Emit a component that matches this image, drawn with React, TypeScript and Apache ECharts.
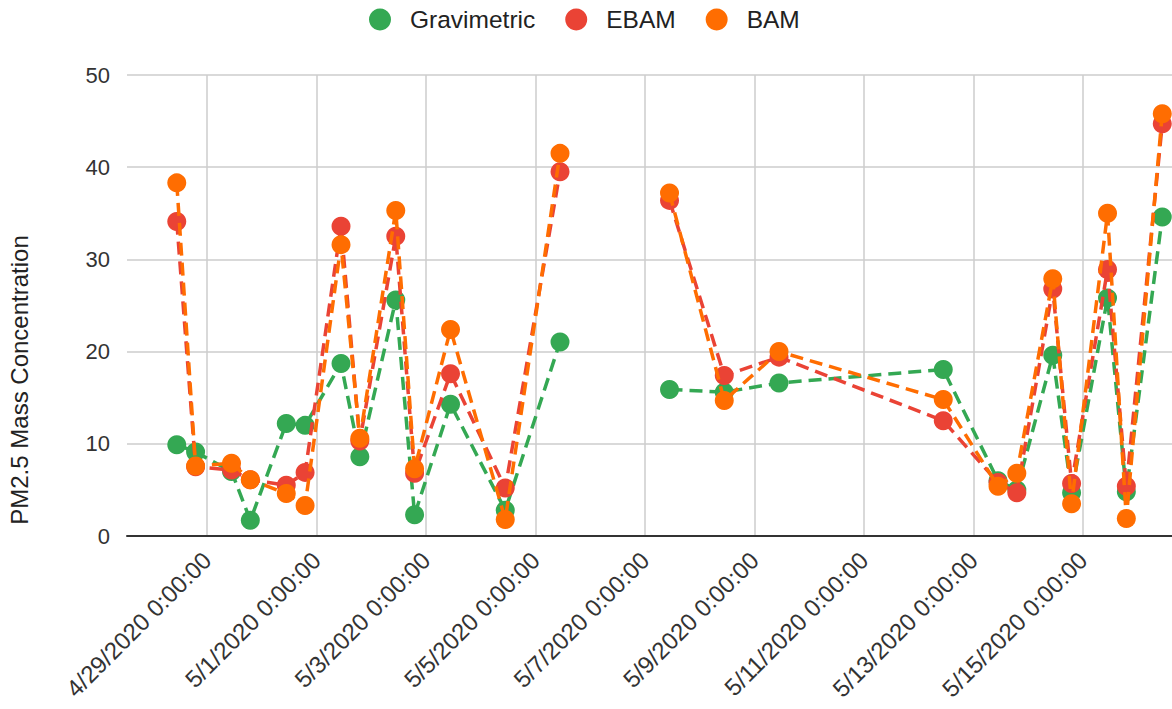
import React, { useEffect, useRef } from "react";
import * as echarts from "echarts";

// Sample times
const times: string[] = [
  "2020-04-28 10:45", "2020-04-28 19:00",
  "2020-04-29 10:45", "2020-04-29 19:00",
  "2020-04-30 10:45", "2020-04-30 19:00",
  "2020-05-01 10:45", "2020-05-01 19:00",
  "2020-05-02 10:45", "2020-05-02 19:00",
  "2020-05-03 10:45",
  "2020-05-04 10:45",
  "2020-05-05 10:45",
  "2020-05-06 10:45",
  "2020-05-07 10:45",
  "2020-05-08 10:45",
  "2020-05-09 10:45",
  "2020-05-12 10:45",
  "2020-05-13 10:45", "2020-05-13 19:00",
  "2020-05-14 10:45", "2020-05-14 19:00",
  "2020-05-15 10:45", "2020-05-15 19:00",
  "2020-05-16 10:45",
];

const gravimetric: (number | null)[] = [
  9.9, 9.1, 7.0, 1.7, 12.2, 12.0, 18.7, 8.6, 25.6, 2.3, 14.3, 2.8, 21.05,
  null, 15.9, 15.6, 16.6, 18.06, 6.0, 5.0, 19.6, 4.7, 25.8, 4.8, 34.6,
];
const ebam: (number | null)[] = [
  34.1, 7.5, 7.15, 6.1, 5.5, 6.9, 33.6, 10.3, 32.5, 6.8, 17.6, 5.2, 39.5,
  null, 36.4, 17.4, 19.4, 12.5, 5.8, 4.7, 26.8, 5.7, 28.9, 5.4, 44.7,
];
const bam: (number | null)[] = [
  38.3, 7.6, 7.9, 6.1, 4.6, 3.3, 31.6, 10.6, 35.3, 7.3, 22.4, 1.8, 41.5,
  null, 37.2, 14.7, 20.0, 14.8, 5.4, 6.8, 27.9, 3.5, 35.0, 1.9, 45.8,
];

const tickDates: string[] = [
  "2020-04-29 00:00", "2020-05-01 00:00", "2020-05-03 00:00",
  "2020-05-05 00:00", "2020-05-07 00:00", "2020-05-09 00:00",
  "2020-05-11 00:00", "2020-05-13 00:00", "2020-05-15 00:00",
];
const axisMin = "2020-04-27 12:56";
const axisMax = "2020-05-16 15:01";

const seriesNames = ["Gravimetric", "EBAM", "BAM"];
const colors = ["#34a853", "#ea4335", "#ff6d01"];

const DAY = 86400000;
function parseT(s: string): number {
  const [d, t] = s.split(" ");
  const [y, m, dd] = d.split("-").map(Number);
  const [hh, mm] = (t || "0:0").split(":").map(Number);
  return Date.UTC(y, m - 1, dd, hh, mm);
}
const BASE = parseT(tickDates[0]);
const toDays = (s: string) => (parseT(s) - BASE) / DAY;

const FONT = "'Liberation Sans', Arial, sans-serif";

export default function App() {
  const ref = useRef<HTMLDivElement>(null);
  useEffect(() => {
    if (!ref.current) return;
    const chart = echarts.init(ref.current, undefined, { renderer: "svg" });
    const all = [gravimetric, ebam, bam];
    const ticks = tickDates.map(toDays);
    const option: any = {
      animation: false,
      backgroundColor: "#ffffff",
      textStyle: { fontFamily: FONT },
      legend: {
        top: 2,
        left: 364,
        icon: "circle",
        itemWidth: 22,
        itemHeight: 22,
        itemGap: 30,
        textStyle: { fontSize: 24.5, color: "#222", fontFamily: FONT, padding: [0, 0, 0, 14] },
        data: seriesNames,
      },
      grid: { left: 127, right: 0, top: 75, bottom: 173, containLabel: false },
      xAxis: {
        type: "value",
        min: toDays(axisMin),
        max: toDays(axisMax),
        axisLine: { show: true, onZero: false, lineStyle: { color: "#333", width: 2 } },
        axisTick: { show: false, customValues: ticks },
        axisLabel: {
          customValues: ticks,
          rotate: 45,
          fontSize: 24,
          color: "#333",
          margin: 20,
          fontFamily: FONT,
          hideOverlap: false,
          showMinLabel: true,
          showMaxLabel: true,
          formatter: (v: number) => {
            const d = new Date(BASE + Math.round(v) * DAY);
            return `${d.getUTCMonth() + 1}/${d.getUTCDate()}/${d.getUTCFullYear()} 0:00:00`;
          },
        },
        splitLine: { show: true, lineStyle: { color: "#cccccc", width: 1.5 } },
      },
      yAxis: {
        type: "value",
        min: 0,
        max: 50,
        interval: 10,
        axisLine: { show: false },
        axisTick: { show: false },
        axisLabel: { fontSize: 22, color: "#333", margin: 17, fontFamily: FONT },
        splitLine: { show: true, lineStyle: { color: "#cccccc", width: 1.5 } },
      },
      graphic: [
        {
          type: "text",
          x: 19,
          y: 380,
          rotation: Math.PI / 2,
          style: {
            text: "PM2.5 Mass Concentration",
            font: `24px ${FONT}`,
            fill: "#222",
            textAlign: "center",
            textVerticalAlign: "middle",
          },
        },
      ],
      series: seriesNames.map((name, si) => ({
        name,
        type: "line",
        symbol: "circle",
        symbolSize: 19,
        connectNulls: false,
        itemStyle: { color: colors[si] },
        lineStyle: { color: colors[si], width: 3.5, type: [13, 7] },
        data: times.map((t, i) => [toDays(t), all[si][i]]),
        z: 2 + si,
      })),
    };
    chart.setOption(option);
    return () => chart.dispose();
  }, []);
  return (
    <div
      ref={ref}
      style={{ position: "fixed", left: 0, top: 0, width: 1172, height: 709 }}
    />
  );
}
